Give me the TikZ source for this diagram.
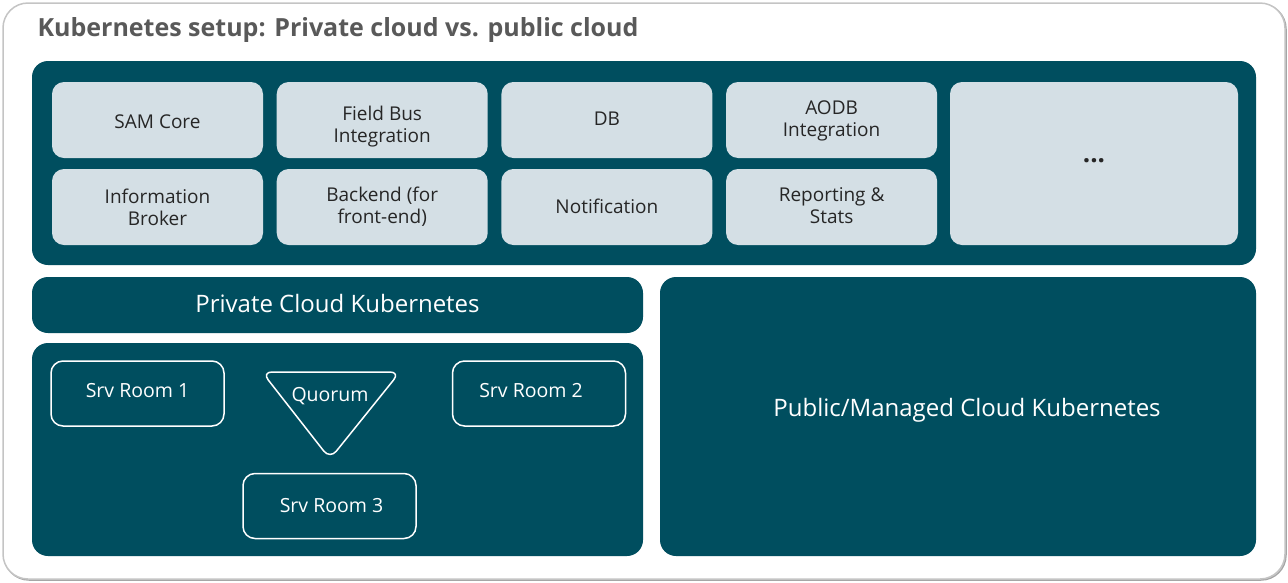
\documentclass[tikz,border=0pt]{standalone}
\usepackage{fontspec}
\setmainfont{Open Sans}
\definecolor{panelTeal}{HTML}{004E5F}
\definecolor{tileGray}{HTML}{D4DFE5}
\definecolor{frameGray}{HTML}{C4C4C4}
\definecolor{titleGray}{HTML}{595959}
\newcommand\tileW{211pt}
\newcommand\tileH{76pt}
\newcommand\roomW{173pt}
\newcommand\roomH{65pt}
\tikzset{
	panel/.style={fill=panelTeal, rounded corners=16pt, inner sep=0pt, text=white,
		font=\fontsize{24}{28}\selectfont},
	tile/.style={fill=tileGray, rounded corners=12pt, inner sep=0pt,
		minimum width=\tileW, minimum height=\tileH},
	tiletext/.style={align=center, text=black!85, font=\fontsize{19}{22}\selectfont},
	room/.style={draw=white, line width=1.5pt, rounded corners=12pt, inner sep=0pt,
		minimum width=\roomW, minimum height=\roomH},
	roomtext/.style={text=white, font=\fontsize{19.5}{22}\selectfont}
}

\begin{document}
\begin{tikzpicture}[x=1pt, y=-1pt]
	\useasboundingbox (0,0) rectangle (1288,582);
	\draw[gray!70, line width=1.5pt, rounded corners=25pt] (4,4) rectangle (1286,580);
	\draw[frameGray, line width=1.5pt, rounded corners=25pt, fill=white] (3,3) rectangle (1285,579);
	\node[anchor=west, text=titleGray, font=\fontsize{25}{29}\selectfont\bfseries]
		(title) at (34,30) {Kubernetes setup: Private cloud vs. public cloud};

	% services
	\node[panel, minimum width=1224pt, minimum height=204pt] (services) at (644,163) {};
	\foreach \name/\txt/\dy [count=\i from 0] in {core/SAM Core/-2pt, bus/Field Bus\\Integration/-7pt,
		db/DB/1pt, aodb/AODB\\Integration/-1pt}{
		\node[tile, label={[tiletext, yshift=\dy]center:{\txt}}] (\name) at (157.5+\i*224.7,120) {};
	}
	\foreach \name/\txt/\dy [count=\i from 0] in {broker/Information\\Broker/0pt,
		backend/Backend (for\\front-end)/0pt, notify/Notification/1pt, report/Reporting \&\\Stats/1pt}{
		\node[tile, label={[tiletext, yshift=\dy]center:{\txt}}] (\name) at (157.5+\i*224.7,207) {};
	}
	\node[tile, minimum width=288pt, minimum height=163pt,
		label={[font=\fontsize{26}{28}\selectfont\bfseries, text=black!85, yshift=2.5pt]center:...}]
		(more) at (1094,163.5) {};

	% private cloud
	\node[panel, minimum width=611pt, minimum height=56pt,
		label={[text=white, font=\fontsize{24}{28}\selectfont, yshift=2pt]center:Private Cloud Kubernetes}]
		(private) at (337.5,305) {};
	\node[panel, minimum width=611pt, minimum height=213pt] (rooms) at (337.5,449.5) {};
	\node[room, label={[roomtext, yshift=3pt]center:Srv Room 1}] (room1) at (137.5,393.5) {};
	\node[room, label={[roomtext, xshift=-8pt, yshift=3pt]center:Srv Room 2}] (room2) at (539,393.5) {};
	\node[room, label={[roomtext, xshift=2pt]center:Srv Room 3}] (room3) at (329.5,506) {};
	\draw[white, line width=1.5pt, rounded corners=10pt] (262,372) -- (400,372) -- (330,459) -- cycle;
	\node[roomtext] (quorum) at (330,396) {Quorum};

	% public cloud
	\node[panel, minimum width=596pt, minimum height=279pt,
		label={[text=white, font=\fontsize{24}{28}\selectfont, xshift=9pt, yshift=6pt]center:Public/Managed Cloud Kubernetes}]
		(public) at (958,416.5) {};
\end{tikzpicture}
\end{document}
